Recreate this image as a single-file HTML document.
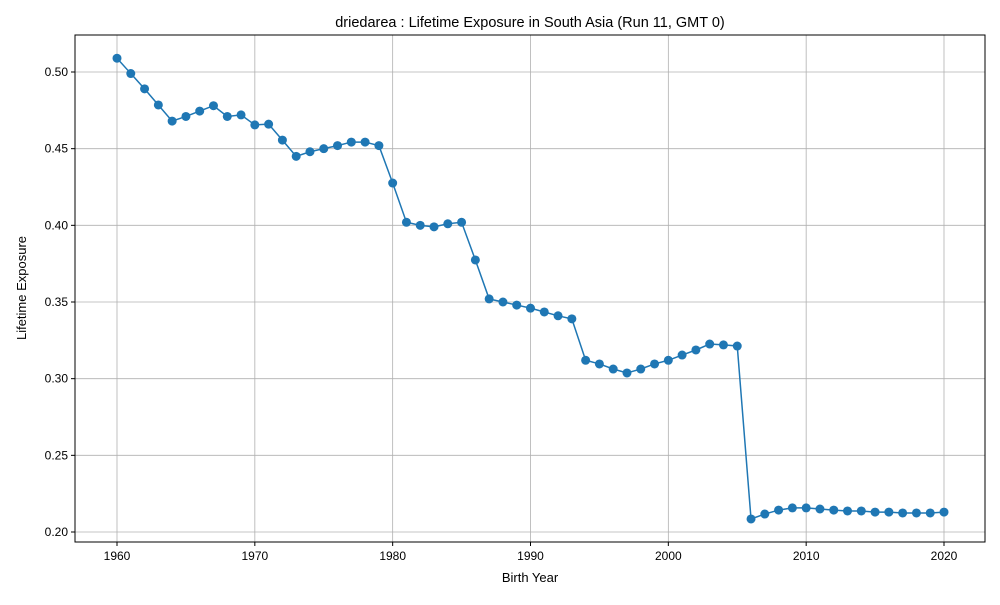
<!DOCTYPE html>
<html><head><meta charset="utf-8"><style>
body{margin:0;background:#fff;}
svg{font-family:"Liberation Sans","DejaVu Sans",sans-serif;}
</style></head><body>
<svg id="chart" width="1000" height="600" viewBox="0 0 1000 600" xmlns="http://www.w3.org/2000/svg">
<rect width="1000" height="600" fill="#fff"/>
<g id="grid"></g>
<g id="ticks"></g>
<g id="series"></g>
<rect x="75" y="35" width="910" height="507" fill="none" stroke="#000" stroke-width="1"/>
<text x="530" y="27" text-anchor="middle" font-size="14.5">driedarea : Lifetime Exposure in South Asia (Run 11, GMT 0)</text>
<text x="530" y="582" text-anchor="middle" font-size="13">Birth Year</text>
<text transform="translate(26,288) rotate(-90)" text-anchor="middle" font-size="13">Lifetime Exposure</text>
</svg>
<script>
const years=[];for(let y=1960;y<=2020;y++)years.push(y);
const values=[0.509,0.499,0.489,0.4785,0.468,0.471,0.4745,0.478,0.471,0.472,0.4655,0.466,0.4556,0.445,0.448,0.450,0.452,0.4543,0.4543,0.452,0.4276,0.402,0.400,0.399,0.401,0.402,0.3774,0.352,0.350,0.348,0.346,0.3435,0.341,0.339,0.312,0.3096,0.3063,0.3037,0.3063,0.3096,0.312,0.3154,0.3187,0.3226,0.322,0.3213,0.2085,0.2117,0.2143,0.2157,0.2157,0.215,0.2143,0.2137,0.2137,0.213,0.213,0.2124,0.2124,0.2124,0.213];
const xTicks=[1960,1970,1980,1990,2000,2010,2020];
const yTicks=[0.20,0.25,0.30,0.35,0.40,0.45,0.50];
const ns="http://www.w3.org/2000/svg";
const L=75,R=985,T=35,B=542;
const xs=v=>117+(v-1960)*(944-117)/60;
const ys=v=>532-(v-0.20)*(532-72)/0.30;
const grid=document.getElementById('grid'),ticks=document.getElementById('ticks'),ser=document.getElementById('series');
function mk(tag,attrs,parent){const e=document.createElementNS(ns,tag);for(const k in attrs)e.setAttribute(k,attrs[k]);parent.appendChild(e);return e;}
xTicks.forEach(t=>{const x=xs(t);
const g=mk('line',{x1:x,x2:x,y1:T,y2:B,stroke:'#b0b0b0','stroke-width':0.8},grid);


const tk=mk('line',{x1:x,x2:x,y1:B,y2:B+4,stroke:'#000'},ticks);


const tx=mk('text',{x:x,y:B+18,'text-anchor':'middle','font-size':12},ticks);tx.textContent=t;

});
yTicks.forEach(t=>{const y=ys(t);
const g=mk('line',{x1:L,x2:R,y1:y,y2:y,stroke:'#b0b0b0','stroke-width':0.8},grid);


const tk=mk('line',{x1:L-4,x2:L,y1:y,y2:y,stroke:'#000'},ticks);


const tx=mk('text',{x:L-7,y:y+4,'text-anchor':'end','font-size':12},ticks);tx.textContent=t.toFixed(2);

});
const pts=years.map((y,i)=>xs(y)+','+ys(values[i])).join(' ');
const pl=mk('polyline',{points:pts,fill:'none',stroke:'#1f77b4','stroke-width':1.5},ser);


years.forEach((y,i)=>{const c=mk('circle',{cx:xs(y),cy:ys(values[i]),r:4.5,fill:'#1f77b4'},ser);

});
</script>
</body></html>
